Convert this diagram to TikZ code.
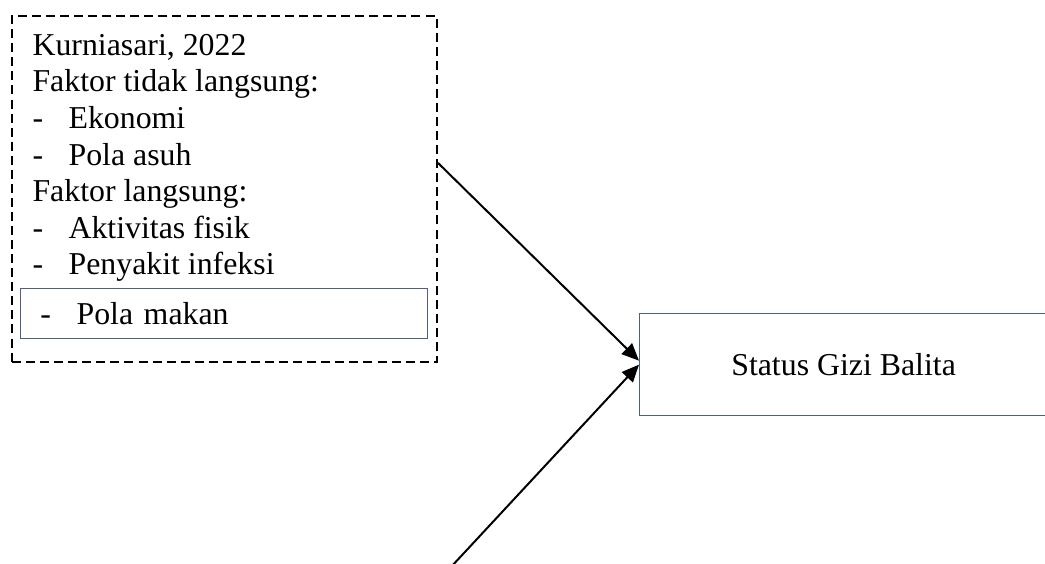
\documentclass[tikz,border=0pt]{standalone}
\usepackage{fontspec}
\setmainfont{Liberation Serif}
\usepackage{tikz}
\usetikzlibrary{positioning, calc, arrows.meta}
\definecolor{garisbox}{HTML}{50607A}
\tikzstyle{arrow} = [line width=0.75pt,-{Triangle[length=6.5pt,width=5.6pt]}]
\tikzstyle{kotak} = [draw=garisbox, line width=0.45pt, inner sep=0pt]
\tikzstyle{putus} = [draw, line width=0.75pt, dash pattern=on 3.4pt off 1.9pt, inner sep=0pt]
\newcommand{\butir}[1]{\makebox[13.6pt][l]{-}#1}

\begin{document}
\begin{tikzpicture}[x=0.377pt, y=-0.377pt, font=\fontsize{12}{13.8}\selectfont]
        \useasboundingbox (0,0) rectangle (1045,564);
        \node[putus, anchor=north west, minimum width=160.2pt, minimum height=130.4pt] (kerangka) at (11,15) {};
        \node[anchor=north west, align=left, inner sep=0pt] (faktor) at (32,33.5) {Kurniasari, 2022\\
            Faktor tidak langsung:\\
            \butir{Ekonomi}\\
            \butir{Pola asuh}\\
            Faktor langsung:\\
            \butir{Aktivitas fisik}\\
            \butir{Penyakit infeksi}};
        \node[kotak, anchor=north west, minimum height=18.9pt, text width=138.4pt, inner xsep=7.5pt, align=left] (polamakan) at (20,288) {\butir{Pola makan}};
        \node[kotak, anchor=north west, minimum width=153.8pt, minimum height=38.5pt] (status) at (639,313) {Status Gizi Balita};
        \coordinate (awal) at ($(kerangka.north east)!0.425!(kerangka.south east)$);
        \coordinate (bawah) at (451,567);
        \draw[arrow] (awal) -- ([yshift=1.5pt]status.west);
        \draw[arrow] (bawah) -- (status.west);
    \end{tikzpicture}
\end{document}
